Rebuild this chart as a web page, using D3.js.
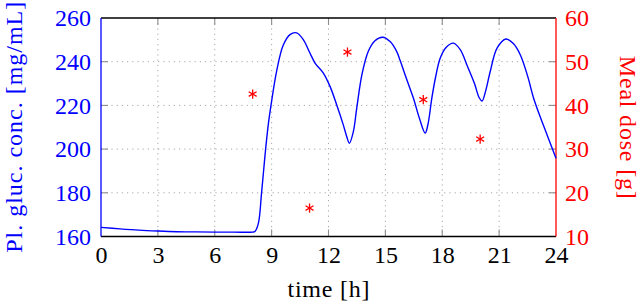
<!DOCTYPE html>
<html><head><meta charset="utf-8">
<script src="https://cdn.jsdelivr.net/npm/d3@7"></script>
<style>
body{margin:0;background:#fff}
</style>
</head><body>
<svg id="c" width="640" height="304"></svg>
<script>
// ---- data ----
const timeH = [0,1,2,3,4,5,6,7,8,8.12,8.3,8.47,8.65,8.82,9,9.26,9.61,9.97,10.32,10.67,11.02,11.29,11.72,12.08,12.43,12.78,12.96,13.1,13.31,13.49,13.76,14.1,14.45,14.86,15.25,15.6,15.78,16.1,16.48,16.8,17.1,17.25,17.45,17.65,17.89,18.2,18.59,18.95,19.3,19.7,19.95,20.1,20.3,20.53,20.89,21.36,21.75,22.12,22.5,22.82,23.2,23.53,24];
const glucose = [164.2,163.5,162.9,162.5,162.2,162.1,162,162,162,162.3,166,180,197,211,222,235.5,247.5,252.4,253.2,250.1,244,239.4,234.9,228.7,220.3,211.1,205.8,202.7,208,218.8,234,244.8,249.6,251.2,249.2,244.6,240.5,232.5,223.3,214,207.3,211.5,223.3,233,241.6,246.5,248.5,245.5,238.5,230,223.5,222,227,235.5,246.2,250.4,248.3,243.1,233.5,223.3,214,206.5,195.8];
const mealTimes = [8,11,13,17,20];
const mealDoses = [42.6,16.5,52.2,41.3,32.3];
const xTicks = [0,3,6,9,12,15,18,21,24];
const yLeftTicks = [160,180,200,220,240,260];
const yRightTicks = [10,20,30,40,50,60];
const xLabel = "time [h]";
const yLeftLabel = "Pl. gluc. conc. [mg/mL]";
const yRightLabel = "Meal dose [g]";

// ---- layout ----
const FONT = "Liberation Serif";
const L = 101, R = 556, T = 18, B = 236.5;
const BLUE = "#0000ff", RED = "#ff0000", GRID = "#a8a8a8";
const svg = d3.select("#c");
const x = d3.scaleLinear().domain([0,24]).range([L,R]);
const yL = d3.scaleLinear().domain([160,260]).range([B,T]);
const yR = d3.scaleLinear().domain([10,60]).range([B,T]);

// grid
const g = svg.append("g");
g.selectAll(".vg").data(xTicks.slice(1,-1)).join("line")
  .attr("x1",d=>x(d)).attr("x2",d=>x(d)).attr("y1",T).attr("y2",B)
  .attr("stroke",GRID).attr("stroke-width",1).attr("stroke-dasharray","1.2,4");
g.selectAll(".hg").data(yLeftTicks.slice(1,-1)).join("line")
  .attr("x1",L).attr("x2",R).attr("y1",d=>yL(d)).attr("y2",d=>yL(d))
  .attr("stroke",GRID).attr("stroke-width",1).attr("stroke-dasharray","1.2,4");

// ticks (inward)
const TK = 7, TC = "#8c8c8c";
xTicks.slice(1,-1).forEach(d=>{
  g.append("line").attr("x1",x(d)).attr("x2",x(d)).attr("y1",B).attr("y2",B-TK).attr("stroke",TC).attr("stroke-width",1.1);
  g.append("line").attr("x1",x(d)).attr("x2",x(d)).attr("y1",T).attr("y2",T+TK).attr("stroke",TC).attr("stroke-width",1.1);
});
yLeftTicks.slice(1,-1).forEach(d=>{
  g.append("line").attr("x1",L).attr("x2",L+TK).attr("y1",yL(d)).attr("y2",yL(d)).attr("stroke",TC).attr("stroke-width",1.1);
});
yRightTicks.slice(1,-1).forEach(d=>{
  g.append("line").attr("x1",R).attr("x2",R-TK).attr("y1",yR(d)).attr("y2",yR(d)).attr("stroke",TC).attr("stroke-width",1.1);
});

// axes labels via d3 axes
const ax = svg.append("g").attr("transform",`translate(0,${B})`)
  .call(d3.axisBottom(x).tickValues(xTicks).tickSize(0).tickPadding(9));
ax.attr("font-family",FONT).attr("font-size",24).select(".domain").remove();
ax.selectAll("text").attr("fill","#000");

const al = svg.append("g").attr("transform",`translate(${L},0)`)
  .call(d3.axisLeft(yL).tickValues(yLeftTicks).tickSize(0).tickPadding(10));
al.attr("font-family",FONT).attr("font-size",24).select(".domain").remove();
al.selectAll("text").attr("fill",BLUE);

const ar = svg.append("g").attr("transform",`translate(${R},0)`)
  .call(d3.axisRight(yR).tickValues(yRightTicks).tickSize(0).tickPadding(9));
ar.attr("font-family",FONT).attr("font-size",24).select(".domain").remove();
ar.selectAll("text").attr("fill",RED);

// frame
svg.append("line").attr("x1",L).attr("x2",R).attr("y1",T).attr("y2",T).attr("stroke","#000").attr("stroke-width",1.3);
svg.append("line").attr("x1",L).attr("x2",R).attr("y1",B).attr("y2",B).attr("stroke","#000").attr("stroke-width",1.3);
svg.append("line").attr("x1",L).attr("x2",L).attr("y1",T).attr("y2",B).attr("stroke",BLUE).attr("stroke-width",1.3);
svg.append("line").attr("x1",R).attr("x2",R).attr("y1",T).attr("y2",B).attr("stroke",RED).attr("stroke-width",1.3);

// glucose curve
const pts = timeH.map((t,i)=>[t,glucose[i]]);
svg.append("path").datum(pts)
  .attr("d",d3.line().x(d=>x(d[0])).y(d=>yL(d[1])).curve(d3.curveCatmullRom.alpha(0.5)))
  .attr("fill","none").attr("stroke",BLUE).attr("stroke-width",1.4);

// meal stars
const r = 4.6;
const angles = [90,30,150].map(a=>a*Math.PI/180);
mealTimes.forEach((t,i)=>{
  const cx = x(t), cy = yR(mealDoses[i]);
  angles.forEach(a=>{
    svg.append("line").attr("x1",cx-r*Math.cos(a)).attr("y1",cy-r*Math.sin(a))
      .attr("x2",cx+r*Math.cos(a)).attr("y2",cy+r*Math.sin(a))
      .attr("stroke",RED).attr("stroke-width",1.3);
  });
});

// axis titles
svg.append("text").attr("x",(L+R)/2).attr("y",297).attr("text-anchor","middle").attr("font-family",FONT)
  .attr("font-size",24).attr("textLength",82).attr("fill","#000").text(xLabel);
svg.append("text").attr("transform",`translate(21.5,${(T+B)/2}) rotate(-90)`).attr("text-anchor","middle").attr("font-family",FONT)
  .attr("font-size",24).attr("textLength",251).attr("fill",BLUE).text(yLeftLabel);
svg.append("text").attr("transform",`translate(620,${(T+B)/2}) rotate(90)`).attr("text-anchor","middle").attr("font-family",FONT)
  .attr("font-size",24).attr("textLength",143).attr("fill",RED).text(yRightLabel);
</script>
</body></html>
